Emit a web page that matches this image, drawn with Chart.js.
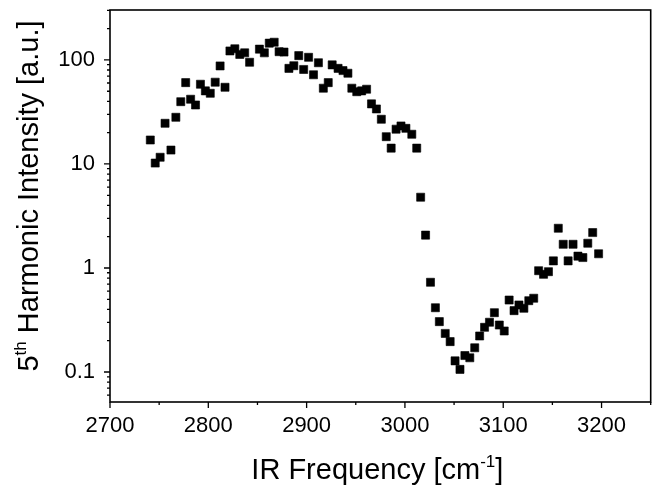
<!DOCTYPE html>
<html>
<head>
<meta charset="utf-8">
<script src="https://cdn.jsdelivr.net/npm/chart.js@4.4.1/dist/chart.umd.min.js"></script>
<style>
  html, body { margin: 0; padding: 0; background: #fff; }
</style>
</head>
<body>
<canvas id="chart" width="657" height="493"></canvas>
<script>
// IR frequency (cm^-1) and 5th harmonic intensity (a.u.)
const frequency = [
  2741, 2746, 2751, 2756, 2762, 2767, 2772, 2777, 2782, 2787,
  2792, 2797, 2802, 2807, 2812, 2817, 2822, 2827, 2832, 2837,
  2842, 2852, 2857, 2862, 2867, 2872, 2877, 2882, 2887, 2892,
  2897, 2902, 2907, 2912, 2917, 2922, 2926, 2932, 2937, 2942,
  2946, 2951, 2956, 2961, 2966, 2971, 2976, 2981, 2986, 2991,
  2996, 3001, 3007, 3012, 3016, 3021, 3026, 3031, 3035, 3041,
  3046, 3051, 3056, 3061, 3066, 3071, 3076, 3081, 3086, 3091,
  3096, 3101, 3106, 3111, 3116, 3121, 3126, 3131, 3136, 3141,
  3146, 3151, 3156, 3161, 3166, 3171, 3176, 3181, 3186, 3191,
  3197
];
const intensity = [
  17.0, 10.2, 11.6, 24.6, 13.6, 28.1, 39.7, 60.5, 41.9, 36.9,
  58.4, 50.4, 47.8, 61.1, 87.6, 54.6, 122, 128, 113, 117,
  95, 127, 117, 145, 148, 120, 119, 83, 88, 110,
  81, 106, 72, 94, 53.5, 60.5, 89.6, 83, 79, 74.5,
  53.5, 49.5, 50.4, 52.3, 37.8, 33.8, 26.9, 18.3, 14.2, 21.6,
  23.2, 22, 19.3, 14.2, 4.79, 2.07, 0.729, 0.415, 0.305, 0.235,
  0.196, 0.128, 0.106, 0.144, 0.137, 0.171, 0.222, 0.269, 0.301, 0.372,
  0.283, 0.248, 0.492, 0.389, 0.441, 0.41, 0.485, 0.512, 0.942, 0.869,
  0.922, 1.17, 2.41, 1.69, 1.17, 1.69, 1.30, 1.26, 1.73, 2.19,
  1.37
];
const xTicks = [2700, 2800, 2900, 3000, 3100, 3200];
const yTicks = [0.1, 1, 10, 100];
const xRange = [2700, 3250];
const yRange = [0.0515, 302];

const FONT = '"Liberation Sans", Arial, sans-serif';

// draw text pieces in a row, some of them raised as superscripts
function drawRich(ctx, parts, cx, baseline) {
  let total = 0;
  parts.forEach(p => {
    ctx.font = p.size + 'px ' + FONT;
    p.w = ctx.measureText(p.text).width;
    total += p.w;
  });
  let x = cx - total / 2;
  parts.forEach(p => {
    ctx.font = p.size + 'px ' + FONT;
    ctx.fillText(p.text, x, baseline + p.rise);
    x += p.w;
  });
}

const axesFrame = {
  id: 'axesFrame',
  beforeDraw(chart) {
    const ctx = chart.ctx;
    ctx.save();
    ctx.fillStyle = '#fff';
    ctx.fillRect(0, 0, chart.width, chart.height);
    ctx.restore();
  },
  afterDatasetsDraw(chart) {
    const { ctx, chartArea: a, scales: { x, y } } = chart;
    ctx.save();
    ctx.strokeStyle = '#000';
    ctx.lineWidth = 1.6;
    ctx.strokeRect(a.left, a.top, a.right - a.left, a.bottom - a.top);

    ctx.lineWidth = 1.3;
    ctx.beginPath();
    // x ticks: major every 100, minor at 50
    for (let v = xRange[0]; v <= xRange[1]; v += 50) {
      const px = x.getPixelForValue(v);
      const len = v % 100 === 0 ? 6 : 3;
      ctx.moveTo(px, a.bottom);
      ctx.lineTo(px, a.bottom + len);
    }
    // y ticks: decades major, 2..9 minor
    for (let e = -2; e <= 2; e++) {
      for (let m = 1; m <= 9; m++) {
        const v = m * Math.pow(10, e);
        if (v < yRange[0] || v > yRange[1]) continue;
        const py = y.getPixelForValue(v);
        const len = m === 1 ? 6 : 3;
        ctx.moveTo(a.left, py);
        ctx.lineTo(a.left - len, py);
      }
    }
    ctx.stroke();
    ctx.restore();
  },
  afterDraw(chart) {
    const { ctx, chartArea: a } = chart;
    ctx.save();
    ctx.fillStyle = '#000';
    ctx.textAlign = 'left';
    ctx.textBaseline = 'alphabetic';

    drawRich(ctx, [
      { text: 'IR Frequency [cm', size: 29, rise: 0 },
      { text: '-1', size: 17, rise: -12 },
      { text: ']', size: 29, rise: 0 }
    ], (a.left + a.right) / 2 - 3, 479);

    ctx.translate(38, 196);
    ctx.rotate(-Math.PI / 2);
    drawRich(ctx, [
      { text: '5', size: 29, rise: 0 },
      { text: 'th', size: 17, rise: -12 },
      { text: ' Harmonic Intensity [a.u.]', size: 29, rise: 0 }
    ], 0, 0);
    ctx.restore();
  }
};

const points = frequency.map((f, i) => ({ x: f, y: intensity[i] }));

// keep the plot box where the reference has it: no extra label padding
const noPad = s => {
  s.paddingTop = 0;
  s.paddingBottom = 0;
  s.paddingLeft = 0;
  s.paddingRight = 0;
};

new Chart(document.getElementById('chart'), {
  type: 'scatter',
  data: {
    datasets: [{
      data: points,
      pointStyle: 'rect',
      pointRadius: 5.7,
      pointHoverRadius: 5.7,
      backgroundColor: '#000',
      borderColor: '#000',
      borderWidth: 0.6
    }]
  },
  options: {
    responsive: false,
    animation: false,
    devicePixelRatio: 1,
    layout: { padding: { top: 10, right: 5, left: 0, bottom: 0 } },
    plugins: {
      legend: { display: false },
      tooltip: { enabled: false }
    },
    scales: {
      x: {
        type: 'linear',
        min: xRange[0],
        max: xRange[1],
        afterBuildTicks: s => { s.ticks = xTicks.map(v => ({ value: v })); },
        afterFit: s => { s.height = 91; noPad(s); },
        grid: { display: false, drawTicks: false },
        border: { display: false },
        ticks: {
          color: '#000',
          font: { family: FONT, size: 22 },
          padding: 11,
          autoSkip: false,
          maxRotation: 0,
          callback: v => String(v)
        }
      },
      y: {
        type: 'logarithmic',
        min: yRange[0],
        max: yRange[1],
        afterBuildTicks: s => { s.ticks = yTicks.map(v => ({ value: v })); },
        afterFit: s => { s.width = 110; noPad(s); },
        grid: { display: false, drawTicks: false },
        border: { display: false },
        ticks: {
          color: '#000',
          font: { family: FONT, size: 22 },
          padding: 15,
          autoSkip: false,
          callback: v => String(v)
        }
      }
    }
  },
  plugins: [axesFrame]
});
</script>
</body>
</html>
